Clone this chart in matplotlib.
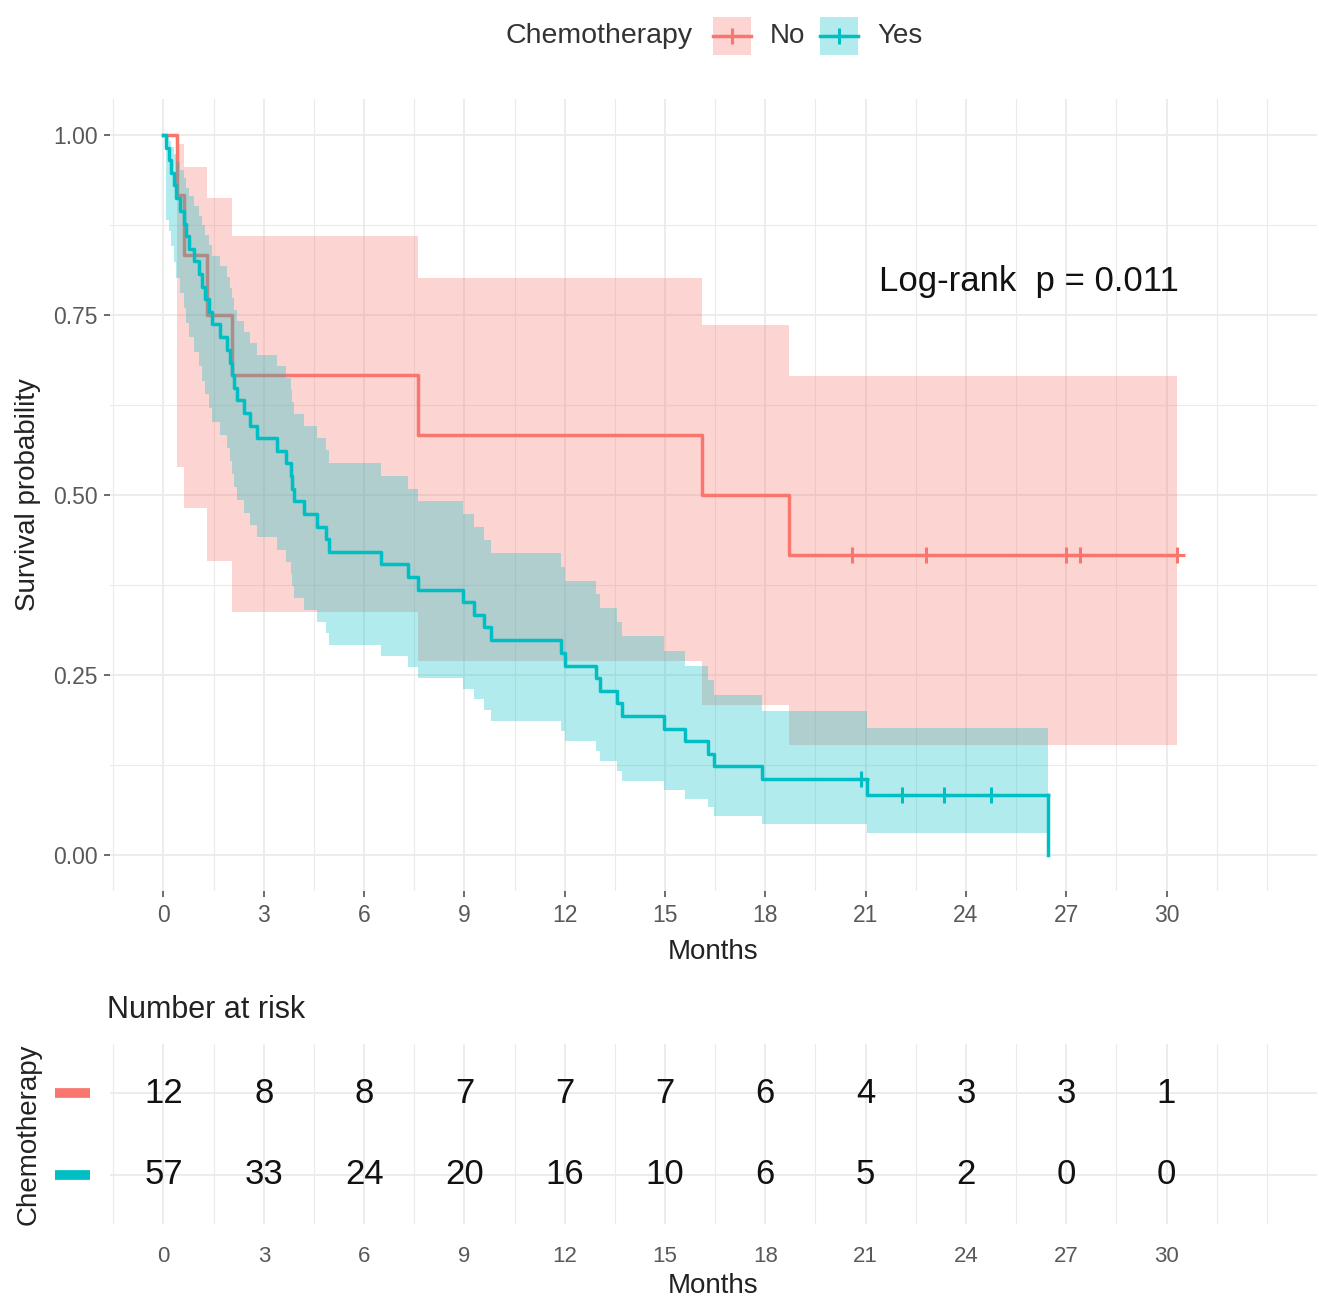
import matplotlib
matplotlib.use('Agg')
import matplotlib.pyplot as plt
import matplotlib.transforms as mtransforms
from matplotlib.patches import Rectangle
from matplotlib.lines import Line2D
import numpy as np

plt.rcParams['font.family'] = ['Liberation Sans', 'DejaVu Sans']

# ---- data ----
groups = ['No', 'Yes']
colors = ['#F8766D', '#00BFC4']

# Chemotherapy = No  (step starts, survival after the step, 95% band)
no_time = [0, 0.41, 0.6, 1.3, 2.05, 7.6, 16.1, 18.7]
no_surv = [1.0, 0.917, 0.833, 0.75, 0.667, 0.583, 0.5, 0.417]
no_upper = [1.0, 0.988, 0.956, 0.912, 0.860, 0.801, 0.736, 0.665]
no_lower = [1.0, 0.539, 0.482, 0.408, 0.337, 0.270, 0.209, 0.153]
no_last = 30.3
no_cens = [20.6, 22.8, 27.0, 27.4, 30.3]

# Chemotherapy = Yes
yes_time = [0, 0.08, 0.15, 0.22, 0.30, 0.38, 0.50, 0.60, 0.68, 0.75,
            0.90, 1.05, 1.15, 1.25, 1.35, 1.45, 1.70, 1.90, 2.00, 2.05,
            2.12, 2.20, 2.40, 2.60, 2.80, 3.40, 3.65, 3.80, 3.85, 3.90,
            4.20, 4.60, 4.85, 4.95, 6.50, 7.30, 7.60, 8.95, 9.30, 9.60,
            9.80, 11.90, 12.00, 12.95, 13.05, 13.55, 13.70, 14.98, 15.60, 16.30,
            16.45, 17.90, 21.05, 26.45]
yes_surv = [1.0, 0.982, 0.965, 0.947, 0.930, 0.912, 0.895, 0.877, 0.860, 0.842,
            0.825, 0.807, 0.789, 0.772, 0.754, 0.737, 0.719, 0.702, 0.684, 0.667,
            0.649, 0.632, 0.614, 0.596, 0.579, 0.561, 0.544, 0.526, 0.509, 0.491,
            0.474, 0.456, 0.439, 0.421, 0.404, 0.386, 0.368, 0.351, 0.333, 0.316,
            0.298, 0.281, 0.263, 0.246, 0.228, 0.211, 0.193, 0.175, 0.158, 0.140,
            0.123, 0.105, 0.084, 0.0]
yes_upper = [1.0, 0.998, 0.991, 0.983, 0.973, 0.963, 0.951, 0.940, 0.927, 0.915,
             0.902, 0.888, 0.875, 0.861, 0.847, 0.832, 0.818, 0.803, 0.788, 0.773,
             0.757, 0.742, 0.726, 0.711, 0.695, 0.679, 0.662, 0.646, 0.629, 0.613,
             0.596, 0.579, 0.562, 0.544, 0.527, 0.509, 0.491, 0.474, 0.455, 0.437,
             0.419, 0.400, 0.381, 0.362, 0.343, 0.324, 0.304, 0.284, 0.263, 0.243,
             0.222, 0.200, 0.176]
yes_lower = [1.0, 0.882, 0.867, 0.846, 0.824, 0.802, 0.781, 0.760, 0.739, 0.719,
             0.698, 0.679, 0.659, 0.640, 0.621, 0.602, 0.583, 0.565, 0.547, 0.529,
             0.511, 0.493, 0.475, 0.458, 0.441, 0.424, 0.407, 0.390, 0.373, 0.357,
             0.340, 0.324, 0.308, 0.292, 0.277, 0.261, 0.246, 0.231, 0.216, 0.201,
             0.186, 0.172, 0.158, 0.144, 0.130, 0.116, 0.103, 0.090, 0.078, 0.066,
             0.054, 0.043, 0.030]
yes_cens = [20.85, 22.1, 23.35, 24.75]

risk_times = [0, 3, 6, 9, 12, 15, 18, 21, 24, 27, 30]
risk_no = [12, 8, 8, 7, 7, 7, 6, 4, 3, 3, 1]
risk_yes = [57, 33, 24, 20, 16, 10, 6, 5, 2, 0, 0]

pval_text = 'Log-rank  p = 0.011'

# ---- figure ----
W, H = 1319, 1299
fig = plt.figure(figsize=(W / 100, H / 100), dpi=100)

def px_box(left, top, right, bottom):
    return [left / W, 1 - bottom / H, (right - left) / W, (bottom - top) / H]

ax = fig.add_axes(px_box(110, 99, 1317, 891))
ax2 = fig.add_axes(px_box(110, 1044, 1317, 1224))

tick_col = '#595959'
grid_col = '#EBEBEB'
major_x = np.arange(0, 31, 3)
minor_x = np.arange(-1.5, 34, 1.5)

for a in (ax, ax2):
    a.set_xlim(-1.6, 34.5)
    for s in a.spines.values():
        s.set_visible(False)
    a.set_xticks(major_x)
    a.set_xticks(minor_x, minor=True)
    a.grid(True, which='major', color=grid_col, lw=1.3, zorder=0)
    a.grid(True, which='minor', axis='x', color=grid_col, lw=0.8, zorder=0)
    a.set_axisbelow(True)
    a.tick_params(which='minor', length=0)
    a.set_xlabel('Months', fontsize=20, color='#222222')

# main panel
ax.set_ylim(-0.05, 1.05)
ax.set_yticks([0, 0.25, 0.5, 0.75, 1.0])
ax.set_yticklabels(['0.00', '0.25', '0.50', '0.75', '1.00'])
ax.set_yticks([0.125, 0.375, 0.625, 0.875], minor=True)
ax.grid(True, which='minor', axis='y', color=grid_col, lw=0.8, zorder=0)
ax.tick_params(which='major', length=4, width=1.1, color='#444444',
               labelsize=16.5, labelcolor=tick_col, pad=5)
ax.set_ylabel('Survival probability', fontsize=20, color='#222222')
ax.yaxis.set_label_coords(-0.057, 0.5)
ax.xaxis.labelpad = 9


def draw_group(t, s, up, lo, last, color, z):
    x = list(t) + [last]
    ax.fill_between(x, list(lo) + [lo[-1]], list(up) + [up[-1]], step='post',
                    color=color, alpha=0.3, lw=0, zorder=z)
    ax.step(x, list(s) + [s[-1]], where='post', color=color, lw=2.5, zorder=z + 0.5)


def cens_marks(t, s, c_times, color, z):
    idx = np.searchsorted(t, c_times, side='right') - 1
    ax.plot(c_times, np.array(s)[idx], ls='none', marker='+', ms=12, mew=2.2,
            color=color, zorder=z)


draw_group(no_time, no_surv, no_upper, no_lower, no_last, colors[0], 2)
cens_marks(no_time, no_surv, no_cens, colors[0], 3)
# Yes: last step is the drop to zero, band stops there
draw_group(yes_time[:-1], yes_surv[:-1], yes_upper, yes_lower, yes_time[-1], colors[1], 4)
ax.plot([yes_time[-1], yes_time[-1]], [yes_surv[-2], yes_surv[-1]],
        color=colors[1], lw=2.5, zorder=4.5)
cens_marks(yes_time, yes_surv, yes_cens, colors[1], 5)

ax.text(21.4, 0.797, pval_text, fontsize=25, va='center', ha='left', color='#111111')

# risk table
ax2.set_ylim(-0.6, 1.6)
ax2.set_yticks([0, 1])
ax2.set_yticklabels(['', ''])
ax2.tick_params(which='major', length=0, labelsize=16, labelcolor=tick_col, pad=16)
for i, v in enumerate(risk_no):
    ax2.text(risk_times[i], 1, str(v), fontsize=25, ha='center', va='center', color='#111111')
for i, v in enumerate(risk_yes):
    ax2.text(risk_times[i], 0, str(v), fontsize=25, ha='center', va='center', color='#111111')
trans = mtransforms.blended_transform_factory(ax2.transAxes, ax2.transData)
ax2.plot([-0.0456, -0.0166], [1, 1], color=colors[0], lw=7, transform=trans,
         clip_on=False, solid_capstyle='butt')
ax2.plot([-0.0456, -0.0166], [0, 0], color=colors[1], lw=7, transform=trans,
         clip_on=False, solid_capstyle='butt')
ax2.set_ylabel('Chemotherapy', fontsize=20, color='#222222')
ax2.yaxis.set_label_coords(-0.057, 0.5)
ax2.xaxis.labelpad = 4

fig.text(107 / W, 1 - 1010 / H, 'Number at risk', fontsize=22, ha='left', va='center',
         color='#222222')

# legend on top
ly = 1 - 36 / H
fig.text(505 / W, ly, 'Chemotherapy', fontsize=20.5, ha='left', va='center', color='#333333')
for key_left, text_left, lab, col in [(713, 770, groups[0], colors[0]),
                                      (820, 877, groups[1], colors[1])]:
    fig.add_artist(Rectangle((key_left / W, 1 - 55 / H), 38 / W, 38 / H,
                             facecolor=col, alpha=0.3, lw=0, transform=fig.transFigure))
    fig.add_artist(Line2D([key_left / W, (key_left + 38) / W], [ly, ly], color=col, lw=2.5,
                          transform=fig.transFigure))
    fig.add_artist(Line2D([(key_left + 19) / W], [ly], color=col, marker='+', ms=12, mew=2.2,
                          transform=fig.transFigure))
    fig.text(text_left / W, ly, lab, fontsize=20, ha='left', va='center', color='#333333')

fig.savefig('out.png', dpi=100)
